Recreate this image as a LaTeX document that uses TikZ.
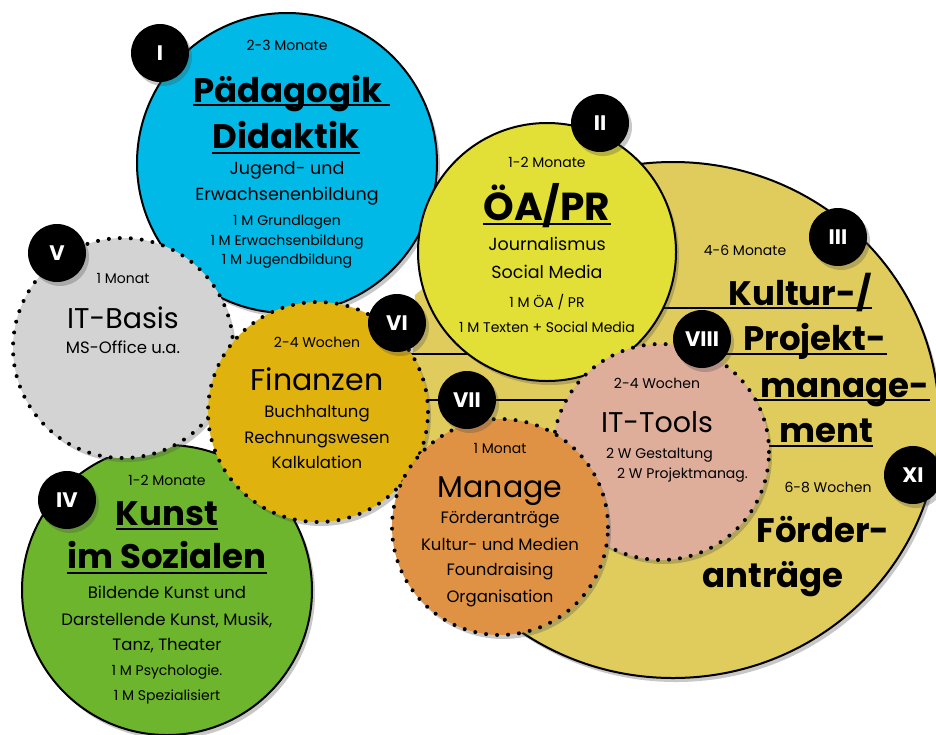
\documentclass[tikz,border=0pt]{standalone}
\usepackage{fontspec}
\setmainfont{Poppins}
\usetikzlibrary{shadows,calc}
\definecolor{cI}{RGB}{0,185,230}
\definecolor{cII}{RGB}{226,223,54}
\definecolor{cIII}{RGB}{224,203,93}
\definecolor{cIV}{RGB}{108,181,45}
\definecolor{cV}{RGB}{211,211,211}
\definecolor{cVI}{RGB}{224,178,14}
\definecolor{cVII}{RGB}{223,146,68}
\definecolor{cVIII}{RGB}{222,174,155}
\tikzset{
  disc/.style={circle, inner sep=0pt},
  solidb/.style={draw=black, line width=2pt},
  dotb/.style={draw=black, line width=4pt, line cap=round, dash pattern=on 0pt off 11pt},
  shad/.style={drop shadow={shadow xshift=3pt, shadow yshift=-4pt, opacity=0.3, fill=black!70}},
  badge/.style={circle, fill=black, minimum size=58pt, inner sep=0pt, text=white,
    font=\bfseries\fontsize{21}{23}\selectfont, shad},
  tsmall/.style={anchor=base, inner sep=0pt, font=\fontsize{14}{16}\selectfont},
  tbody/.style={anchor=base, inner sep=0pt, font=\fontsize{16.5}{18}\selectfont},
  tbodyl/.style={anchor=base, inner sep=0pt, font=\fontsize{17.5}{19}\selectfont},
  tbig/.style={anchor=base, inner sep=0pt, font=\fontsize{30}{32}\selectfont},
  tbigs/.style={anchor=base, inner sep=0pt, font=\fontsize{28.5}{30}\selectfont},
  ttitle/.style={anchor=base, inner sep=0pt, font=\bfseries\fontsize{34}{36}\selectfont},
  uline/.style={draw=black, line width=2pt},
}
\begin{document}
\begin{tikzpicture}[x=1pt,y=-1pt]
\useasboundingbox (0,0) rectangle (936,734);
\fill[white] (0,0) rectangle (936,734);

% big yellow area III
\path[fill=cIII, solidb, shad] (673,420) ellipse [x radius=266, y radius=258];
% extension of the yellow area hidden behind the circles on the left
\fill[cIII] (415,295) -- (460,258) -- (480,420) -- (440,440) -- (412,380) -- cycle;

% III and XI texts
\node[tsmall] (t3d) at (745,255) {4-6 Monate};
\node[ttitle] (t3a) at (800,305) {Kultur-/};
\node[ttitle] (t3b) at (815,350) {Projekt-};
\node[ttitle] (t3c) at (845,397) {manage-};
\node[ttitle] (t3e) at (826,442) {ment};
\node[tsmall] (t11d) at (828,492) {6-8 Wochen};
\node[ttitle] (t11a) at (823,542) {Förder-};
\node[ttitle] (t11b) at (773,587) {anträge};

% underlines running to the left
\coordinate (u1) at (600,308);
\coordinate (u2) at (400,354);
\coordinate (u3) at (400,400);
\coordinate (u4) at (600,446);
\draw[uline] (u1) -- (u1 -| t3a.east);
\draw[uline] (u2) -- (u2 -| t3b.east);
\draw[uline] (u3) -- (u3 -| t3c.east);
\draw[uline] (u4) -- (u4 -| t3e.east);

% circles
\node[disc, minimum size=290pt, fill=cIV, solidb, shad] (cIV) at (167,590) {};
\node[disc, minimum size=300pt, fill=cI, solidb, shad] (cI) at (287,163) {};
\node[disc, minimum size=220pt, fill=cV, dotb, shad] (cV) at (123,348) {};
\node[disc, minimum size=220pt, fill=cVI, dotb, shad] (cVI) at (318,412) {};
\node[disc, minimum size=258pt, fill=cII, solidb, shad] (cII) at (547,252) {};
\node[disc, minimum size=216pt, fill=cVIII, dotb, shad] (cVIII) at (661,452) {};
\node[disc, minimum size=216pt, fill=cVII, dotb, shad] (cVII) at (500,527) {};

% badges
\node[badge] (bI) at (160,53) {I};
\node[badge] (bII) at (600,123) {II};
\node[badge] (bIII) at (838,237) {III};
\node[badge] (bIV) at (67,500) {IV};
\node[badge] (bV) at (57,253) {V};
\node[badge] (bVI) at (397,323) {VI};
\node[badge] (bVII) at (467,400) {VII};
\node[badge] (bVIII) at (702,339) {VIII};
\node[badge] (bXI) at (913,475) {XI};

% I texts
\node[tsmall] (t1d) at (287,50) {2-3 Monate};
\node[ttitle] (t1a) at (288,102) {Pädagogik};
\node[ttitle] (t1b) at (286,148) {Didaktik};
\draw[uline] ($(t1a.base west)+(0,3)$) -- ($(t1a.base east)+(7,3)$);
\draw[uline] ($(t1b.base west)+(0,5)$) -- ($(t1b.base east)+(0,5)$);
\node[tbodyl] (t1c) at (287,174) {Jugend- und};
\node[tbodyl] (t1e) at (287,200) {Erwachsenenbildung};
\node[tsmall] (t1f) at (287,225) {1 M Grundlagen};
\node[tsmall] (t1g) at (287,245) {1 M Erwachsenbildung};
\node[tsmall] (t1h) at (287,264) {1 M Jugendbildung};

% II texts
\node[tsmall] (t2d) at (547,167) {1-2 Monate};
\node[ttitle, font=\bfseries\fontsize{39}{41}\selectfont] (t2a) at (547,220) {ÖA/PR};
\draw[uline] ($(t2a.base west)+(0,4)$) -- ($(t2a.base east)+(0,4)$);
\node[tbodyl] (t2b) at (547,250) {Journalismus};
\node[tbodyl] (t2c) at (547,278) {Social Media};
\node[tsmall] (t2e) at (547,307) {1 M ÖA / PR};
\node[tsmall] (t2f) at (547,332) {1 M Texten + Social Media};

% V texts
\node[tsmall] (t5d) at (123,283) {1 Monat};
\node[tbigs] (t5a) at (123,328) {IT-Basis};
\node[tbody] (t5b) at (123,353) {MS-Office u.a.};

% VI texts
\node[tsmall] (t6d) at (317,347) {2-4 Wochen};
\node[tbig] (t6a) at (317,390) {Finanzen};
\node[tbody] (t6b) at (317,417) {Buchhaltung};
\node[tbody] (t6c) at (317,443) {Rechnungswesen};
\node[tbody] (t6e) at (317,468) {Kalkulation};

% IV texts
\node[tsmall] (t4d) at (167,485) {1-2 Monate};
\node[ttitle] (t4a) at (167,525) {Kunst};
\node[ttitle] (t4b) at (167,568) {im Sozialen};
\draw[uline] ($(t4a.base west)+(0,4)$) -- ($(t4a.base east)+(0,4)$);
\draw[uline] ($(t4b.base west)+(0,5)$) -- ($(t4b.base east)+(0,5)$);
\node[tbody] (t4c) at (167,598) {Bildende Kunst und};
\node[tbody] (t4e) at (167,625) {Darstellende Kunst, Musik,};
\node[tbody] (t4f) at (167,650) {Tanz, Theater};
\node[tsmall] (t4g) at (167,675) {1 M Psychologie.};
\node[tsmall] (t4h) at (167,700) {1 M Spezialisiert};

% VII texts
\node[tsmall] (t7d) at (500,453) {1 Monat};
\node[tbig] (t7a) at (500,497) {Manage};
\node[tbody] (t7b) at (500,523) {Förderanträge};
\node[tbody] (t7c) at (500,550) {Kultur- und Medien};
\node[tbody] (t7e) at (500,575) {Foundraising};
\node[tbody] (t7f) at (500,602) {Organisation};

% VIII texts
\node[tsmall] (t8d) at (657,388) {2-4 Wochen};
\node[tbigs] (t8a) at (657,432) {IT-Tools};
\node[tsmall, anchor=base west] (t8b) at (606,458) {2 W Gestaltung};
\node[tsmall, anchor=base west] (t8c) at (617,478) {2 W Projektmanag.};
\end{tikzpicture}
\end{document}
